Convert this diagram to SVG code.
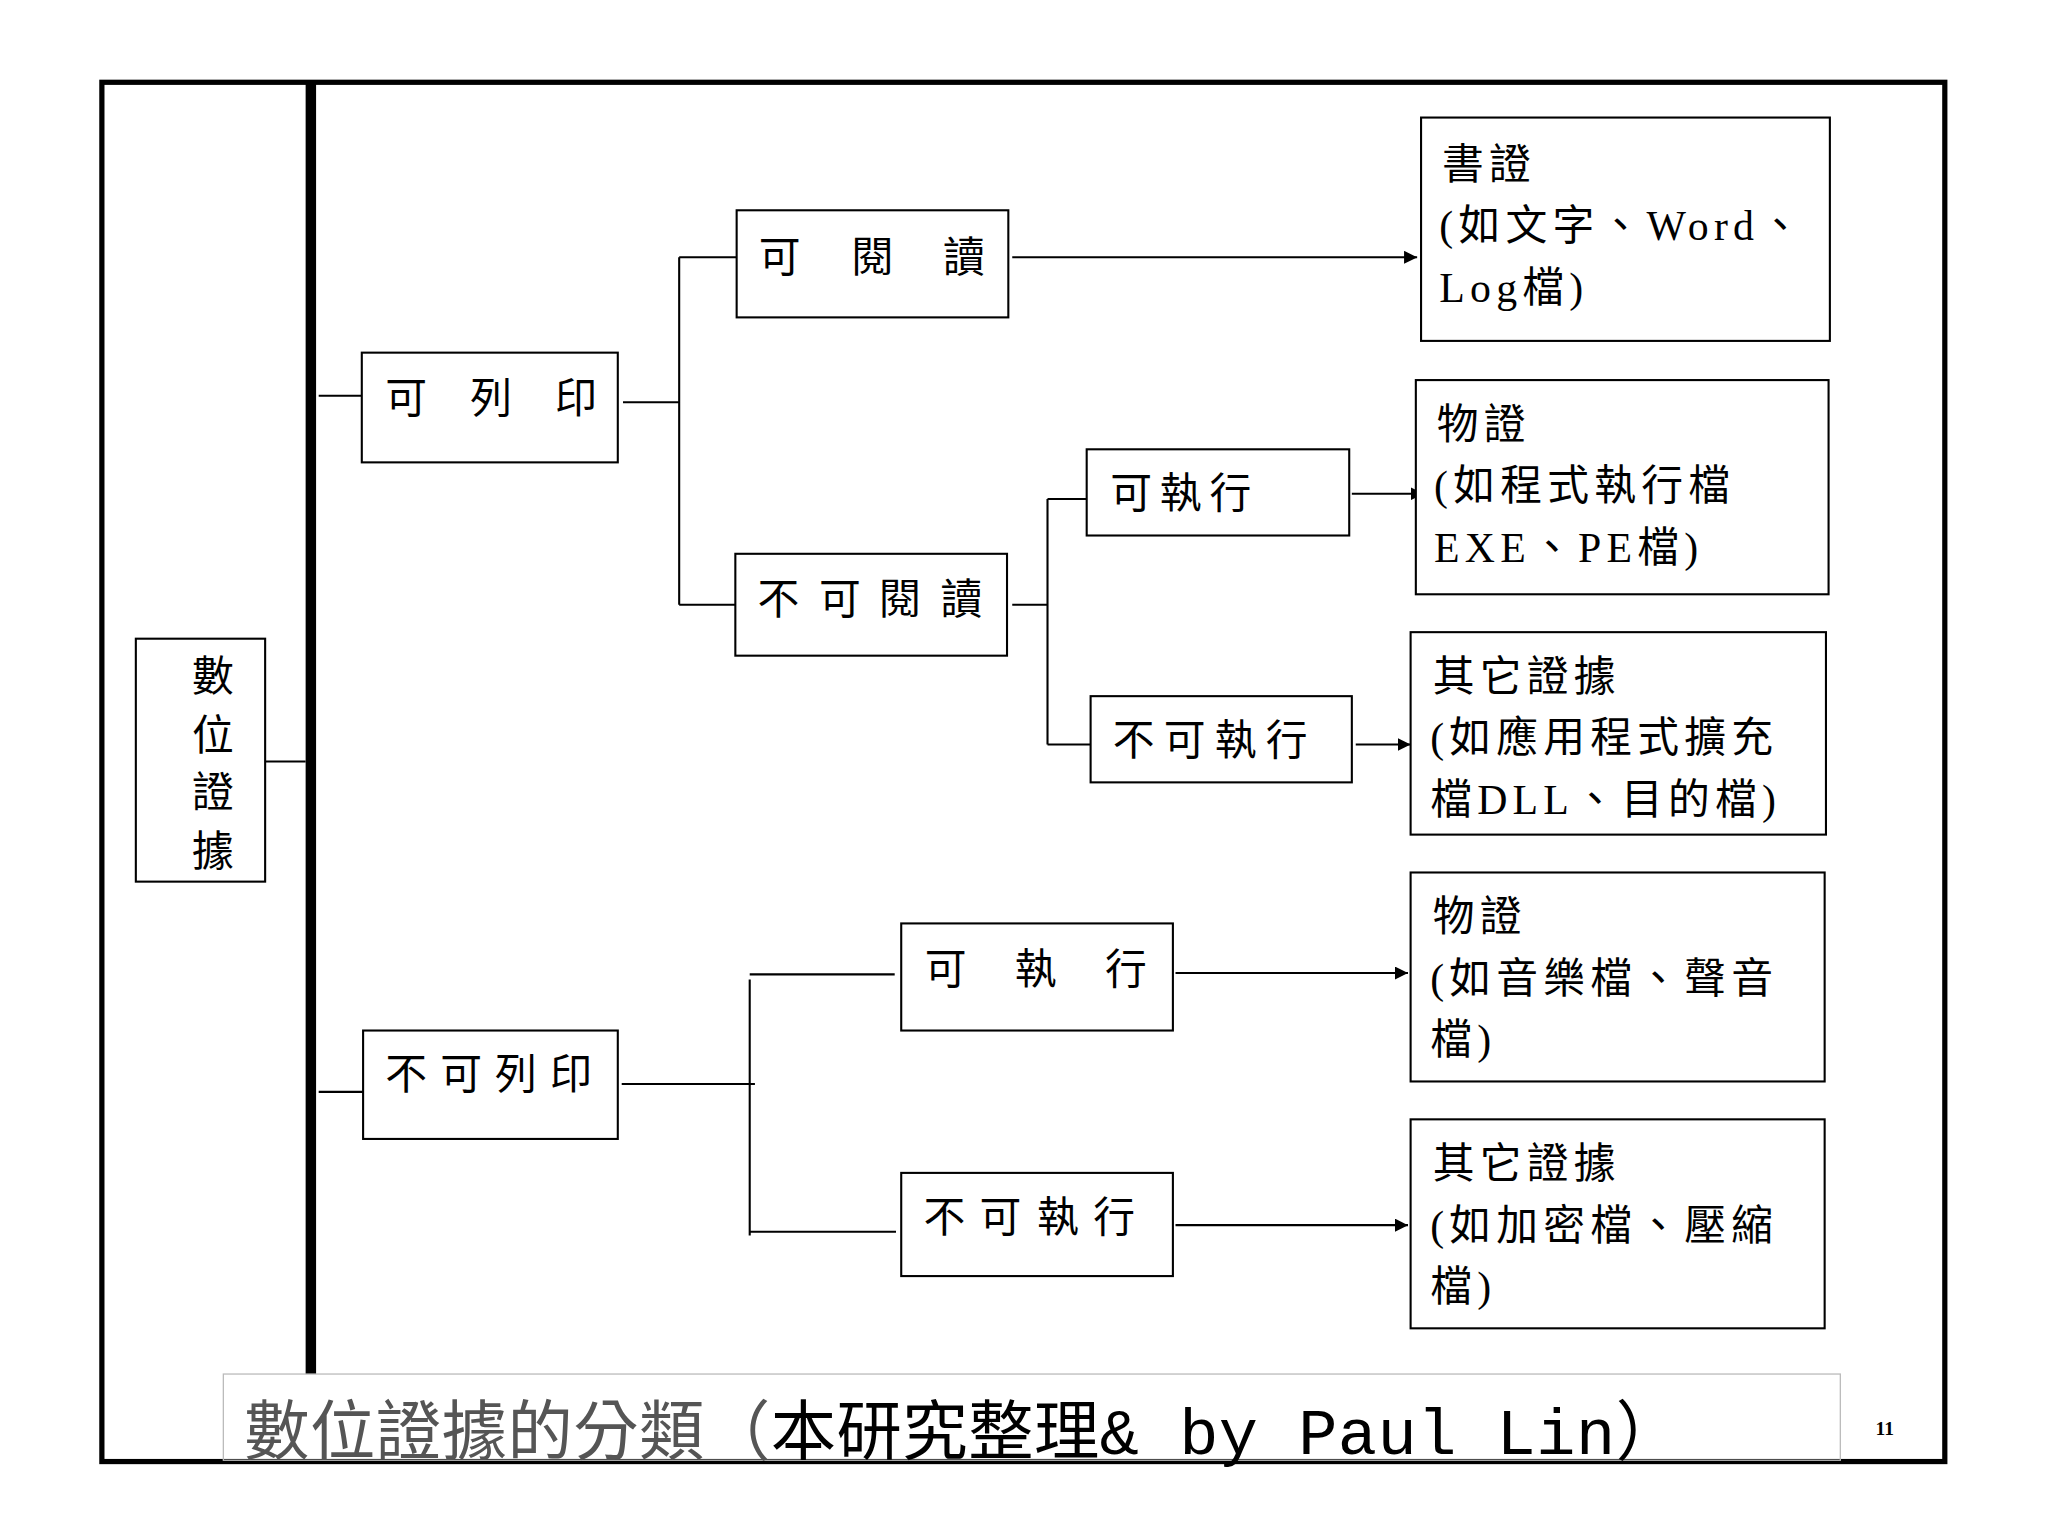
<svg xmlns="http://www.w3.org/2000/svg" width="2048" height="1536" viewBox="0 0 2048 1536">
<style>
.b{fill:#fff;stroke:#000;stroke-width:1.6}
.t{font-family:"Liberation Serif","Noto Sans CJK TC",serif;font-size:32px;fill:#000}
.r{letter-spacing:4px}
.c{fill:none;stroke:#000;stroke-width:1.6}
</style>
<defs><marker id="a" viewBox="0 0 10 10" refX="10" refY="5" markerWidth="10" markerHeight="10" markerUnits="userSpaceOnUse" orient="auto"><path d="M0,0L10,5L0,10z" fill="#000"/></marker></defs>
<rect width="2048" height="1536" fill="#fff"/>
<g transform="scale(1.30612)">
<rect x="78" y="63" width="1411" height="1056" fill="none" stroke="#000" stroke-width="4"/>
<rect x="234" y="63" width="8" height="989" fill="#000"/>
<rect x="171" y="1052" width="1238" height="66" fill="none" stroke="#bbb" stroke-width="1"/>
<g id="connectors">
<path class="c" d="M203,583H234M244,303H277M477,308H520M520,197V463M520,197H564M520,463H566M775,463H802M802,382V570M802,382H832M802,570H836M244,836H278M476,830H578M574,750V946M574,746H685M574,943H686"/>
<path class="c" marker-end="url(#a)" d="M775,197H1085"/>
<path class="c" marker-end="url(#a)" d="M1035,378H1090"/>
<path class="c" marker-end="url(#a)" d="M1038,570H1080"/>
<path class="c" marker-end="url(#a)" d="M900,745H1078"/>
<path class="c" marker-end="url(#a)" d="M900,938H1078"/>
</g>
<g id="root"><rect class="b" x="104" y="489" width="99" height="186"/>
<text class="t" x="163" text-anchor="middle"><tspan x="163" y="529">數</tspan><tspan x="163" y="574">位</tspan><tspan x="163" y="618">證</tspan><tspan x="163" y="663">據</tspan></text></g>
<g id="n1"><rect class="b" x="277" y="270" width="196" height="84"/><text class="t" x="295 360 425" y="316">可列印</text></g>
<g id="n2"><rect class="b" x="564" y="161" width="208" height="82"/><text class="t" x="581 652 722" y="208">可閱讀</text></g>
<g id="n3"><rect class="b" x="563" y="424" width="208" height="78"/><text class="t" x="580 627 673 720" y="470">不可閱讀</text></g>
<g id="n4"><rect class="b" x="832" y="344" width="201" height="66"/><text class="t" x="850 888 926" y="389">可執行</text></g>
<g id="n5"><rect class="b" x="835" y="533" width="200" height="66"/><text class="t" x="852 891 930 969" y="578">不可執行</text></g>
<g id="n6"><rect class="b" x="278" y="789" width="195" height="83"/><text class="t" x="295 337 379 421" y="834">不可列印</text></g>
<g id="n7"><rect class="b" x="690" y="707" width="208" height="82"/><text class="t" x="708 777 846" y="753">可執行</text></g>
<g id="n8"><rect class="b" x="690" y="898" width="208" height="79"/><text class="t" x="707 750 794 837" y="943">不可執行</text></g>
<g id="l1"><rect class="b" x="1088" y="90" width="313" height="171"/><text class="t r"><tspan x="1104" y="137">書證</tspan><tspan x="1102" y="184">(如文字、Word、</tspan><tspan x="1102" y="231">Log檔)</tspan></text></g>
<g id="l2"><rect class="b" x="1084" y="291" width="316" height="164"/><text class="t r"><tspan x="1100" y="336">物證</tspan><tspan x="1098" y="383">(如程式執行檔</tspan><tspan x="1098" y="430">EXE、PE檔)</tspan></text></g>
<g id="l3"><rect class="b" x="1080" y="484" width="318" height="155"/><text class="t r"><tspan x="1097" y="529">其它證據</tspan><tspan x="1095" y="576">(如應用程式擴充</tspan><tspan x="1095" y="623">檔DLL、目的檔)</tspan></text></g>
<g id="l4"><rect class="b" x="1080" y="668" width="317" height="160"/><text class="t r"><tspan x="1097" y="713">物證</tspan><tspan x="1095" y="760">(如音樂檔、聲音</tspan><tspan x="1095" y="807">檔)</tspan></text></g>
<g id="l5"><rect class="b" x="1080" y="857" width="317" height="160"/><text class="t r"><tspan x="1097" y="902">其它證據</tspan><tspan x="1095" y="949">(如加密檔、壓縮</tspan><tspan x="1095" y="996">檔)</tspan></text></g>
<text x="187" y="1113" font-family="'Liberation Mono','Noto Sans CJK TC',monospace" font-size="50" fill="#555" textLength="1100">數位證據的分類（<tspan fill="#000">本研究整理&amp; by Paul Lin）</tspan></text>
<text x="1443" y="1099" text-anchor="middle" font-family="'Liberation Serif',serif" font-weight="bold" font-size="15">11</text>
</g>
</svg>
